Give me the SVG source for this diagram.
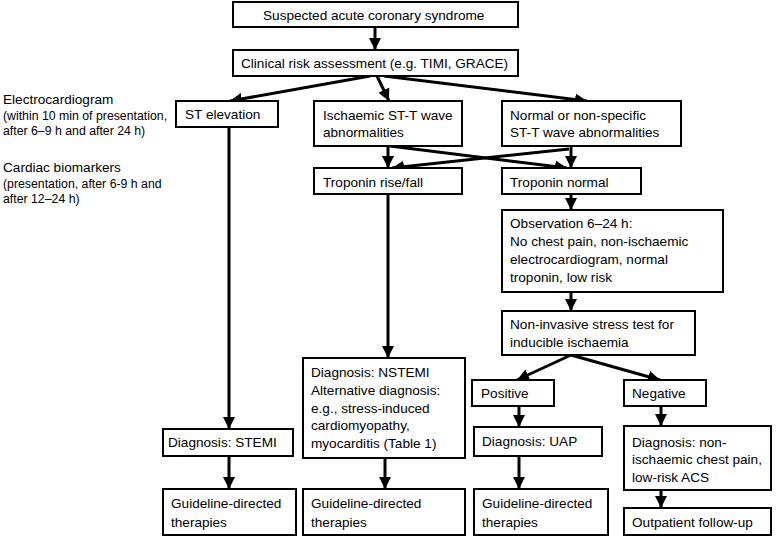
<svg xmlns="http://www.w3.org/2000/svg" width="777" height="538" viewBox="0 0 777 538">
<style>
.box{fill:#fff;stroke:#000;stroke-width:2}
.t{font-family:"Liberation Sans",Arial,sans-serif;font-size:13.6px;fill:#000}
.s{font-family:"Liberation Sans",Arial,sans-serif;font-size:12.3px;fill:#000}
.c{stroke:#000;stroke-width:3;fill:none}
</style>
<defs>
<marker id="ah" markerUnits="userSpaceOnUse" markerWidth="12" markerHeight="12" viewBox="0 0 12 12" refX="12" refY="6" orient="auto">
<path d="M0,0 L12,6 L0,12 Z" fill="#000"/>
</marker>
</defs>
<rect width="777" height="538" fill="#fff"/>
<g id="labels">
<text class="t" x="3" y="104">Electrocardiogram</text>
<text class="s" x="3" y="120">(within 10 min of presentation,</text>
<text class="s" x="3" y="135">after 6–9 h and after 24 h)</text>
<text class="t" x="3" y="172">Cardiac biomarkers</text>
<text class="s" x="3" y="188">(presentation, after 6-9 h and</text>
<text class="s" x="3" y="203">after 12–24 h)</text>
</g>
<g id="connectors">
<line class="c" x1="375" y1="27" x2="375" y2="50" marker-end="url(#ah)"/>
<line class="c" x1="370" y1="76" x2="230" y2="101" marker-end="url(#ah)"/>
<line class="c" x1="377" y1="76" x2="389" y2="101" marker-end="url(#ah)"/>
<line class="c" x1="384" y1="76" x2="587" y2="101" marker-end="url(#ah)"/>
<line class="c" x1="388" y1="146" x2="388" y2="168" marker-end="url(#ah)"/>
<line class="c" x1="390" y1="146" x2="567" y2="168" marker-end="url(#ah)"/>
<line class="c" x1="571" y1="146" x2="571" y2="168" marker-end="url(#ah)"/>
<line class="c" x1="569" y1="149" x2="392" y2="168" marker-end="url(#ah)"/>
<line class="c" x1="388" y1="194" x2="388" y2="358" marker-end="url(#ah)"/>
<line class="c" x1="229" y1="127" x2="229" y2="429" marker-end="url(#ah)"/>
<line class="c" x1="571" y1="194" x2="571" y2="210" marker-end="url(#ah)"/>
<line class="c" x1="571" y1="292" x2="571" y2="311" marker-end="url(#ah)"/>
<line class="c" x1="571" y1="355" x2="517" y2="380" marker-end="url(#ah)"/>
<line class="c" x1="571" y1="355" x2="660" y2="380" marker-end="url(#ah)"/>
<line class="c" x1="519" y1="406" x2="519" y2="427" marker-end="url(#ah)"/>
<line class="c" x1="519" y1="456" x2="519" y2="489" marker-end="url(#ah)"/>
<line class="c" x1="661" y1="406" x2="661" y2="426" marker-end="url(#ah)"/>
<line class="c" x1="661" y1="490" x2="661" y2="508" marker-end="url(#ah)"/>
<line class="c" x1="229" y1="456" x2="229" y2="489" marker-end="url(#ah)"/>
<line class="c" x1="385" y1="458" x2="385" y2="489" marker-end="url(#ah)"/>
</g>
<g id="n1"><rect class="box" x="233" y="2" width="285" height="25"/><text class="t" x="263" y="20">Suspected acute coronary syndrome</text></g>
<g id="n2"><rect class="box" x="233" y="50" width="285" height="26"/><text class="t" x="241" y="68">Clinical risk assessment (e.g. TIMI, GRACE)</text></g>
<g id="n3"><rect class="box" x="176" y="101" width="102" height="26"/><text class="t" x="185" y="119">ST elevation</text></g>
<g id="n4"><rect class="box" x="314" y="101" width="148" height="45"/><text class="t" x="323" y="120">Ischaemic ST-T wave</text><text class="t" x="323" y="137">abnormalities</text></g>
<g id="n5"><rect class="box" x="502" y="101" width="179" height="45"/><text class="t" x="510" y="120">Normal or non-specific</text><text class="t" x="510" y="137">ST-T wave abnormalities</text></g>
<g id="n6"><rect class="box" x="314" y="168" width="148" height="26"/><text class="t" x="323" y="187">Troponin rise/fall</text></g>
<g id="n7"><rect class="box" x="502" y="168" width="139" height="26"/><text class="t" x="510" y="187">Troponin normal</text></g>
<g id="n8"><rect class="box" x="502" y="210" width="221" height="82"/><text class="t" x="510" y="228">Observation 6–24 h:</text><text class="t" x="510" y="246">No chest pain, non-ischaemic</text><text class="t" x="510" y="264">electrocardiogram, normal</text><text class="t" x="510" y="282">troponin, low risk</text></g>
<g id="n9"><rect class="box" x="502" y="311" width="193" height="44"/><text class="t" x="510" y="329">Non-invasive stress test for</text><text class="t" x="510" y="347">inducible ischaemia</text></g>
<g id="n10"><rect class="box" x="303" y="358" width="162" height="100"/><text class="t" x="311" y="377">Diagnosis: NSTEMI</text><text class="t" x="311" y="395">Alternative diagnosis:</text><text class="t" x="311" y="413">e.g., stress-induced</text><text class="t" x="311" y="430">cardiomyopathy,</text><text class="t" x="311" y="448">myocarditis (Table 1)</text></g>
<g id="n11"><rect class="box" x="472" y="380" width="82" height="26"/><text class="t" x="481" y="398">Positive</text></g>
<g id="n12"><rect class="box" x="624" y="380" width="82" height="26"/><text class="t" x="632" y="398">Negative</text></g>
<g id="n13"><rect class="box" x="163" y="429" width="130" height="27"/><text class="t" x="168" y="447">Diagnosis: STEMI</text></g>
<g id="n14"><rect class="box" x="474" y="427" width="128" height="29"/><text class="t" x="482" y="446">Diagnosis: UAP</text></g>
<g id="n15"><rect class="box" x="624" y="426" width="147" height="64"/><text class="t" x="632" y="447">Diagnosis: non-</text><text class="t" x="632" y="464">ischaemic chest pain,</text><text class="t" x="632" y="482">low-risk ACS</text></g>
<g id="n16"><rect class="box" x="163" y="489" width="133" height="46"/><text class="t" x="171" y="508">Guideline-directed</text><text class="t" x="171" y="527">therapies</text></g>
<g id="n17"><rect class="box" x="303" y="489" width="162" height="46"/><text class="t" x="311" y="508">Guideline-directed</text><text class="t" x="311" y="527">therapies</text></g>
<g id="n18"><rect class="box" x="474" y="489" width="134" height="46"/><text class="t" x="482" y="508">Guideline-directed</text><text class="t" x="482" y="527">therapies</text></g>
<g id="n19"><rect class="box" x="624" y="508" width="147" height="27"/><text class="t" x="632" y="527">Outpatient follow-up</text></g>
</svg>
